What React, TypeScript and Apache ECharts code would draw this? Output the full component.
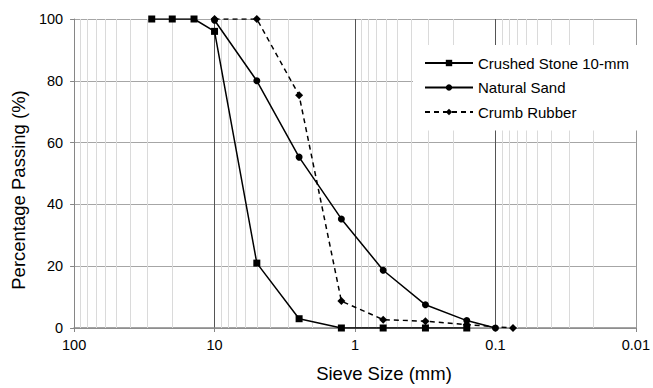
import React, { useEffect, useRef } from "react";
import * as echarts from "echarts";

const stoneSizes = [28, 20, 14, 10, 5, 2.5, 1.25, 0.63, 0.315, 0.16];
const stonePassing = [100, 100, 100, 96, 21, 3, 0, 0, 0, 0];

const sandSizes = [10, 5, 2.5, 1.25, 0.63, 0.315, 0.16, 0.1];
const sandPassing = [99.6, 80, 55.3, 35.3, 18.7, 7.5, 2.4, 0];

const rubberSizes = [10, 5, 2.5, 1.25, 0.63, 0.315, 0.16, 0.075];
const rubberPassing = [100, 100, 75.3, 8.7, 2.7, 2.2, 1.1, 0];

const minorGrid = [
  90, 80, 70, 60, 50, 40, 30, 20,
  9, 8, 7, 6, 5, 4, 3, 2,
  0.9, 0.8, 0.7, 0.6, 0.5, 0.4, 0.3, 0.2,
  0.09, 0.08, 0.07, 0.06, 0.05, 0.04, 0.03, 0.02,
];
const edgeGrid = [0.01];

const pairs = (xs: number[], ys: number[]) => xs.map((x, i) => [x, ys[i]]);

const FONT = "'Liberation Sans', Arial, sans-serif";

export default function App() {
  const ref = useRef<HTMLDivElement>(null);
  useEffect(() => {
    document.body.style.margin = "0";
    const chart = echarts.init(ref.current!, null, { renderer: "svg" });
    chart.setOption({
      animation: false,
      backgroundColor: "#fff",
      textStyle: { fontFamily: FONT },
      grid: { left: 74, right: 15, top: 19, bottom: 55, containLabel: false },
      legend: {
        orient: "vertical",
        left: 413,
        top: 45,
        z: 20,
        padding: [10.5, 10, 11, 11],
        itemGap: 9.5,
        itemWidth: 48,
        itemHeight: 8,
        backgroundColor: "#fff",
        textStyle: { fontSize: 15, color: "#000", fontFamily: FONT },
        data: ["Crushed Stone 10-mm", "Natural Sand", "Crumb Rubber"],
      },
      xAxis: {
        type: "log",
        logBase: 10,
        min: 0.01,
        max: 100,
        inverse: true,
        name: "Sieve Size (mm)",
        nameLocation: "middle",
        nameGap: 35,
        nameTextStyle: {
          fontSize: 18.5,
          color: "#000",
          fontFamily: FONT,
          lineHeight: 20,
          padding: [0, 0, 0, 58],
        },
        axisLine: { show: true, lineStyle: { color: "#868686", width: 1.5 } },
        axisTick: { show: true, length: 4, lineStyle: { color: "#868686" } },
        axisLabel: {
          fontSize: 14.5,
          color: "#000",
          margin: 9,
          formatter: (v: number) => String(+v.toPrecision(3)),
        },
        splitLine: {
          show: true,
          showMinLine: false,
          showMaxLine: false,
          lineStyle: { color: "#555", width: 1 },
        },
      },
      yAxis: {
        type: "value",
        min: 0,
        max: 100,
        interval: 20,
        name: "Percentage Passing (%)",
        nameLocation: "middle",
        nameGap: 42,
        nameTextStyle: {
          fontSize: 18.5,
          color: "#000",
          fontFamily: FONT,
          lineHeight: 20,
          padding: [0, 33, 0, 0],
        },
        axisLine: { show: true, lineStyle: { color: "#868686", width: 1 } },
        axisTick: { show: true, length: 4, lineStyle: { color: "#868686" } },
        axisLabel: { fontSize: 14.5, color: "#000", margin: 11 },
        splitLine: { show: true, lineStyle: { color: "#a6a6a6", width: 1 } },
      },
      series: [
        {
          name: "minor",
          type: "line",
          data: [],
          silent: true,
          z: 1,
          markLine: {
            z: 1,
            silent: true,
            symbol: ["none", "none"],
            label: { show: false },
            lineStyle: { color: "#dadada", type: "solid", width: 1 },
            data: minorGrid.map((v) => ({ xAxis: v })),
          },
        },
        {
          name: "edge",
          type: "line",
          data: [],
          silent: true,
          z: 1,
          markLine: {
            z: 1,
            silent: true,
            symbol: ["none", "none"],
            label: { show: false },
            lineStyle: { color: "#999", type: "solid", width: 1 },
            data: edgeGrid.map((v) => ({ xAxis: v })),
          },
        },
        {
          name: "Crushed Stone 10-mm",
          type: "line",
          data: pairs(stoneSizes, stonePassing),
          symbol: "rect",
          symbolSize: 7,
          z: 5,
          lineStyle: { color: "#000", width: 1.5 },
          itemStyle: { color: "#000" },
        },
        {
          name: "Natural Sand",
          type: "line",
          data: pairs(sandSizes, sandPassing),
          symbol: "circle",
          symbolSize: 7,
          z: 5,
          lineStyle: { color: "#000", width: 1.5 },
          itemStyle: { color: "#000" },
        },
        {
          name: "Crumb Rubber",
          type: "line",
          data: pairs(rubberSizes, rubberPassing),
          symbol: "diamond",
          symbolSize: 8,
          z: 5,
          lineStyle: { color: "#000", width: 1.5, type: [5, 4] },
          itemStyle: { color: "#000" },
        },
      ],
    });
    return () => chart.dispose();
  }, []);
  return <div ref={ref} style={{ width: 653, height: 388 }} />;
}
